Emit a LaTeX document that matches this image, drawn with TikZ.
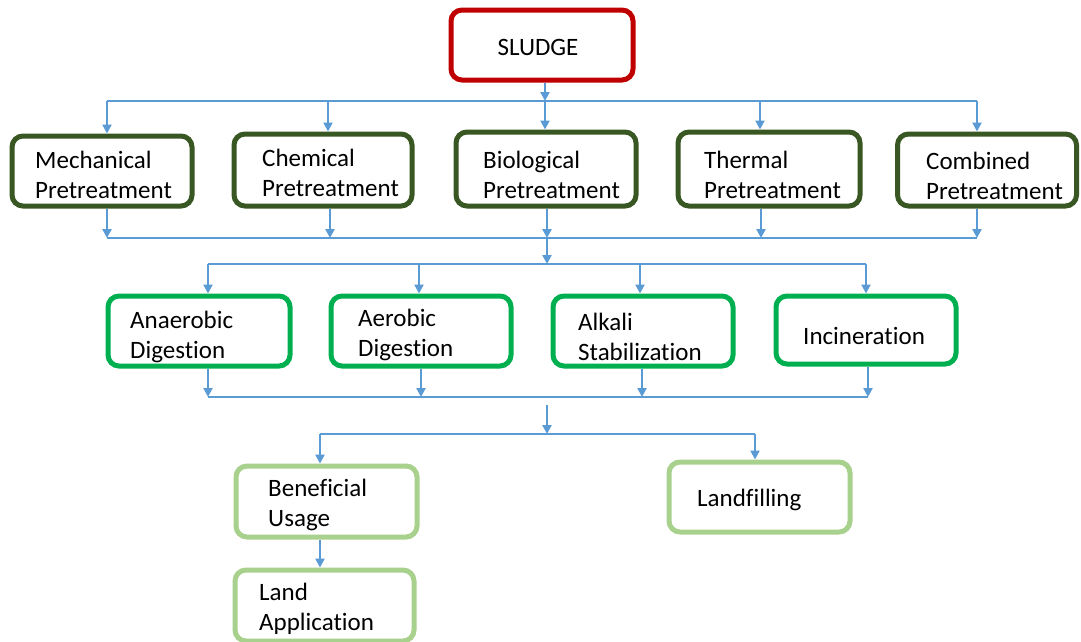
\documentclass[tikz,border=0pt]{standalone}
\usepackage{fontspec}
\setmainfont{Carlito}[Ligatures={NoCommon}]
\usetikzlibrary{arrows.meta,calc}
\definecolor{cred}{HTML}{C00000}
\definecolor{cdark}{HTML}{385723}
\definecolor{cgreen}{HTML}{00B050}
\definecolor{clight}{HTML}{A9D18E}
\definecolor{cblue}{HTML}{5B9BD5}
\tikzset{
  box/.style={draw=#1, line width=5pt, rounded corners=11pt, fill=white, inner sep=0pt},
  lbl/.style={font=\fontsize{25}{30}\selectfont, align=left, anchor=west, inner sep=0pt, text=black},
  conn/.style={draw=cblue, line width=2.8pt},
  arr/.style={conn, -{Triangle[length=9pt,width=9pt]}},
}
\begin{document}
\begin{tikzpicture}[x=1pt,y=-1pt]
\clip (0,0) rectangle (1081,641);
\fill[white] (0,0) rectangle (1081,641);
% boxes
\node[box=cred, minimum width=182pt, minimum height=70pt] (sludge) at (542,45) {};
\node[lbl, anchor=center] (tsludge) at (538,47) {SLUDGE};

\node[box=cdark, minimum width=180pt, minimum height=70pt] (mech) at (102,171) {};
\node[box=cdark, minimum width=178pt, minimum height=72pt] (chem) at (323,170) {};
\node[box=cdark, minimum width=180pt, minimum height=74pt] (bio) at (546,169) {};
\node[box=cdark, minimum width=182pt, minimum height=74pt] (therm) at (769,169) {};
\node[box=cdark, minimum width=179pt, minimum height=72pt] (comb) at (987,170) {};
\node[lbl] (tmech) at (35,175) {Mechanical\\Pretreatment};
\node[lbl] (tchem) at (262,173) {Chemical\\Pretreatment};
\node[lbl] (tbio) at (483,175) {Biological\\Pretreatment};
\node[lbl] (ttherm) at (704,175) {Thermal\\Pretreatment};
\node[lbl] (tcomb) at (926,176) {Combined\\Pretreatment};

\node[box=cgreen, minimum width=182pt, minimum height=70pt] (anaer) at (199,331) {};
\node[box=cgreen, minimum width=180pt, minimum height=70pt] (aer) at (421,331) {};
\node[box=cgreen, minimum width=180pt, minimum height=70pt] (alk) at (643,331) {};
\node[box=cgreen, minimum width=180pt, minimum height=68pt] (inc) at (866,330) {};
\node[lbl] (tanaer) at (130,337) {Anaerobic\\Digestion};
\node[lbl] (taer) at (358,335) {Aerobic\\Digestion};
\node[lbl] (talk) at (578,337) {Alkali\\Stabilization};
\node[lbl] (tinc) at (803,336) {Incineration};

\node[box=clight, minimum width=181pt, minimum height=71pt] (benef) at (326.5,501.5) {};
\node[box=clight, minimum width=181pt, minimum height=70pt] (landf) at (759.5,497) {};
\node[box=clight, minimum width=179pt, minimum height=71pt] (landa) at (324.5,605.5) {};
\node[lbl] (tbenef) at (268,505) {Beneficial\\Usage};
\node[lbl] (tlandf) at (697,500) {Landfilling};
\node[lbl] (tlanda) at (259,609) {Land\\Application};

% bus coordinates
\coordinate (b1) at (545,101);
\coordinate (b2) at (547,238);
\coordinate (b3) at (547,264);
\coordinate (b4s) at (547,405);
\coordinate (b5) at (547,434);

% sludge -> pretreatments
\draw[arr] (sludge.south -| b1) -- (b1);
\draw[conn] (107,101) -- (977,101);
\draw[arr] (107,101) -- (107,101 |- mech.north);
\draw[arr] (328,101) -- (328,101 |- chem.north);
\draw[arr] (b1) -- (b1 |- bio.north);
\draw[arr] (760,101) -- (760,101 |- therm.north);
\draw[arr] (977,101) -- (977,101 |- comb.north);

% pretreatments -> bus 238
\draw[arr] (mech.south -| 107,0) -- (107,238);
\draw[arr] (chem.south -| 330,0) -- (330,238);
\draw[arr] (bio.south -| b2) -- (b2);
\draw[arr] (therm.south -| 761,0) -- (761,238);
\draw[arr] (comb.south -| 977,0) -- (977,238);
\draw[conn] (107,238) -- (977,238);

% bus -> stabilisation
\draw[arr] (b2) -- (b3);
\draw[conn] (208,264) -- (866,264);
\draw[arr] (208,264) -- (208,264 |- anaer.north);
\draw[arr] (419,264) -- (419,264 |- aer.north);
\draw[arr] (640,264) -- (640,264 |- alk.north);
\draw[arr] (866,264) -- (866,264 |- inc.north);

% stabilisation -> bus 397
\draw[arr] (anaer.south -| 208,0) -- (208,397);
\draw[arr] (aer.south -| 421,0) -- (421,397);
\draw[arr] (alk.south -| 642,0) -- (642,397);
\draw[arr] (inc.south -| 868,0) -- (868,397);
\draw[conn] (208,397) -- (868,397);

% disposal
\draw[arr] (b4s) -- (b5);
\draw[conn] (320,434) -- (755,434);
\draw[arr] (320,434) -- (320,434 |- benef.north);
\draw[arr] (755,434) -- (755,434 |- landf.north);
\draw[arr] (benef.south -| 320,0) -- (320,0 |- landa.north);
\end{tikzpicture}
\end{document}
